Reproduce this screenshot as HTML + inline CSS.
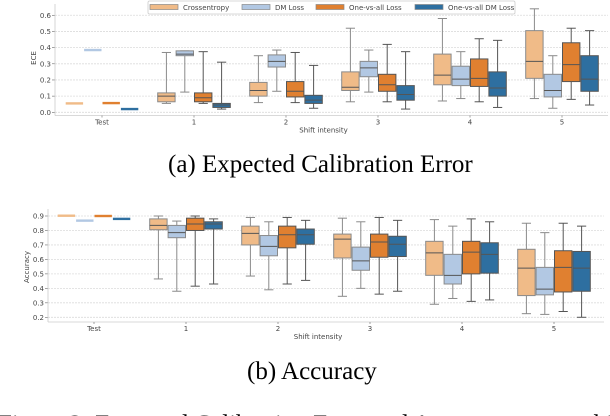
<!DOCTYPE html>
<html><head><meta charset="utf-8"><style>
html,body{margin:0;padding:0;background:#fff;width:610px;height:416px;overflow:hidden}
svg{display:block}
.tk{font-family:"DejaVu Sans","Liberation Sans",sans-serif;font-size:7px;fill:#444}
.cap{font-family:"Liberation Serif",serif;font-size:25px;fill:#000}
</style></head><body>
<svg id="fig" width="610" height="416" viewBox="0 0 610 416">
<text class="cap" x="168" y="172">(a)  Expected Calibration Error</text>
<text class="cap" x="247" y="379">(b)  Accuracy</text>
<text class="cap" x="-2" y="432">Figure 2: Expected Calibration Error and Accuracy across shift levels under d</text>
</svg>
<script>
const categories=["Test","1","2","3","4","5"];
const seriesNames=["Crossentropy","DM Loss","One-vs-all Loss","One-vs-all DM Loss"];
const colors=["#f0bb88","#b2c8e3","#e08030","#2e6fa0"];
// ECE: [low, q1, median, q3, high] per category per series
const eceCE=[[.055,.055,.055,.055,.055],[.055,.065,.10,.12,.37],[.06,.10,.135,.185,.35],[.065,.135,.155,.25,.52],[.07,.17,.23,.36,.58],[.085,.21,.315,.505,.64]];
const eceDM=[[.385,.385,.385,.385,.385],[.125,.35,.36,.38,.38],[.13,.28,.315,.355,.385],[.125,.22,.275,.315,.385],[.085,.165,.205,.285,.375],[.025,.095,.135,.235,.35]];
const eceOVA=[[.057,.057,.057,.057,.057],[.055,.065,.09,.12,.375],[.06,.095,.13,.19,.37],[.065,.13,.17,.235,.42],[.065,.16,.21,.33,.455],[.08,.19,.295,.43,.52]];
const eceOVADM=[[.02,.02,.02,.02,.02],[.02,.03,.045,.055,.31],[.025,.055,.075,.105,.29],[.02,.075,.11,.165,.375],[.03,.10,.15,.25,.445],[.045,.13,.205,.35,.505]];
const accCE=[[.902,.902,.902,.902,.902],[.465,.805,.835,.88,.90],[.485,.70,.78,.83,.89],[.345,.61,.74,.775,.885],[.29,.49,.645,.725,.875],[.225,.35,.54,.67,.85]];
const accDM=[[.868,.868,.868,.868,.868],[.38,.75,.785,.835,.865],[.39,.625,.69,.765,.86],[.40,.525,.59,.685,.86],[.33,.43,.49,.635,.83],[.22,.355,.395,.545,.785]];
const accOVA=[[.90,.90,.90,.90,.90],[.415,.80,.845,.885,.90],[.43,.68,.77,.83,.89],[.36,.615,.72,.775,.89],[.31,.50,.65,.725,.88],[.24,.375,.545,.66,.85]];
const accOVADM=[[.88,.88,.88,.88,.88],[.43,.81,.845,.86,.88],[.455,.705,.77,.81,.87],[.38,.62,.705,.76,.87],[.32,.505,.635,.715,.86],[.20,.38,.54,.655,.83]];
const eceTicks=[0,0.1,0.2,0.3,0.4,0.5,0.6];
const accTicks=[0.2,0.3,0.4,0.5,0.6,0.7,0.8,0.9];

const NS="http://www.w3.org/2000/svg";
const svg=document.getElementById('fig');
function mk(tag,attrs,parent){const e=document.createElementNS(NS,tag);for(const k in attrs)e.setAttribute(k,attrs[k]);(parent||svg).appendChild(e);return e;}

function chart(cfg){
  const g=mk('g',{});
  
  
  const y=v=>cfg.y0-(v-cfg.v0)*cfg.k;
  const x=i=>cfg.x0+cfg.step*i;
  const bw=cfg.step*0.2;
  cfg.ticks.forEach(t=>{
    const gl=mk('line',{x1:cfg.left,x2:cfg.right,y1:y(t),y2:y(t),stroke:'#dcdcdc','stroke-width':0.8,'stroke-dasharray':'2,1'},g);
    
    
    mk('line',{x1:cfg.left-3,x2:cfg.left,y1:y(t),y2:y(t),stroke:'#666','stroke-width':0.6},g);
    const tl=mk('text',{x:cfg.left-4,y:y(t)+2.5,'text-anchor':'end',class:'tk'},g);
    tl.textContent=t.toFixed(1);
    
    
  });
  mk('line',{x1:cfg.left,x2:cfg.left,y1:cfg.top,y2:cfg.bottom,stroke:'#ccc','stroke-width':0.8},g);
  mk('line',{x1:cfg.left,x2:cfg.right,y1:cfg.bottom,y2:cfg.bottom,stroke:'#ccc','stroke-width':0.8},g);
  categories.forEach((c,i)=>{
    mk('line',{x1:x(i),x2:x(i),y1:cfg.bottom,y2:cfg.bottom+2,stroke:'#666','stroke-width':0.6},g);
    const t=mk('text',{x:x(i),y:cfg.bottom+9,'text-anchor':'middle',class:'tk'},g);
    t.textContent=c;
    
    
  });
  const xt=mk('text',{x:(cfg.left+cfg.right)/2-8,y:cfg.bottom+17,'text-anchor':'middle',class:'tk'},g);
  xt.textContent='Shift intensity';
  
  
  const yt=mk('text',{x:0,y:0,'text-anchor':'middle',class:'tk',transform:`translate(${cfg.ylx},${cfg.yly}) rotate(-90)`},g);
  yt.textContent=cfg.ylabel;
  
  
  cfg.series.forEach((ser,s)=>{
    ser.forEach((d,i)=>{
      const cx=x(i)+(s-1.5)*bw;
      const bg=mk('g',{},g);
      
      
      const ec=s<2?'#8a8a8a':'#555';
      mk('line',{x1:cx,x2:cx,y1:y(d[4]),y2:y(d[3]),stroke:ec,'stroke-width':1},bg);
      mk('line',{x1:cx,x2:cx,y1:y(d[1]),y2:y(d[0]),stroke:ec,'stroke-width':1},bg);
      mk('line',{x1:cx-bw/4,x2:cx+bw/4,y1:y(d[4]),y2:y(d[4]),stroke:ec,'stroke-width':1},bg);
      mk('line',{x1:cx-bw/4,x2:cx+bw/4,y1:y(d[0]),y2:y(d[0]),stroke:ec,'stroke-width':1},bg);
      let top=y(d[3]),h=y(d[1])-y(d[3]);
      if(h<2){top=y(d[2])-1.2;h=2.4;
        mk('rect',{x:cx-bw/2+0.5,y:top,width:bw-1,height:h,fill:colors[s]},bg);
      } else {
        mk('rect',{x:cx-bw/2+0.5,y:top,width:bw-1,height:h,fill:colors[s],stroke:ec,'stroke-width':1},bg);
        mk('line',{x1:cx-bw/2+0.5,x2:cx+bw/2-0.5,y1:y(d[2]),y2:y(d[2]),stroke:'#555','stroke-width':1},bg);
      }
    });
  });
}
chart({name:'ece-chart',series:[eceCE,eceDM,eceOVA,eceOVADM],ticks:eceTicks,v0:0,y0:112.3,k:161.7,x0:102,step:92,left:55,right:608,top:4,bottom:115.5,ylabel:'ECE',ylx:36,yly:58});
chart({name:'accuracy-chart',series:[accCE,accDM,accOVA,accOVADM],ticks:accTicks,v0:0.9,y0:216,k:144.7,x0:94,step:92,left:48,right:604,top:209,bottom:322,ylabel:'Accuracy',ylx:29,yly:267});

const lg=mk('g',{});


mk('rect',{x:148,y:1,width:367,height:13,fill:'#fff',stroke:'#ccc','stroke-width':0.8,rx:1.5},lg);
const lx=[150,242,316,415];
seriesNames.forEach((n,i)=>{
  const e=mk('g',{},lg);
  
  
  mk('rect',{x:lx[i],y:4.5,width:28,height:5,fill:colors[i],stroke:'#888','stroke-width':0.7},e);
  const t=mk('text',{x:lx[i]+33,y:10,class:'tk'},e);
  t.textContent=n;
});
</script>
</body></html>
